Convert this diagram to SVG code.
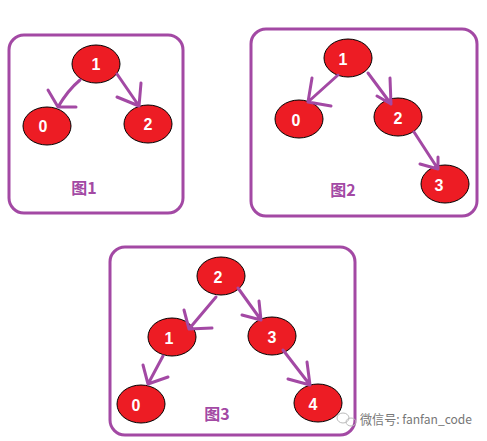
<svg xmlns="http://www.w3.org/2000/svg" width="487" height="441" viewBox="0 0 487 441">
<style>
.frame{fill:#fff;stroke:#a349a4;stroke-width:3}
.node ellipse{fill:#ed1c24;stroke:#000;stroke-width:1}
.node text{fill:#fff;font-family:"Liberation Sans","Noto Sans CJK SC",sans-serif;font-weight:bold;font-size:16px;text-anchor:middle}
.cap{fill:#a349a4;font-family:"Noto Sans CJK SC","Liberation Sans",sans-serif;font-weight:bold;font-size:16px;text-anchor:middle}
.edge{fill:none;stroke:#a349a4;stroke-width:3;stroke-linecap:round;stroke-linejoin:round}
.wm{fill:#777;font-family:"Noto Sans CJK SC","Liberation Sans",sans-serif;font-size:13px}
</style>
<rect width="487" height="441" fill="#fff"/>
<g id="fig1">
<rect class="frame" x="9" y="35" width="174" height="178" rx="15"/>
<g id="f1n1" class="node"><ellipse cx="96" cy="64" rx="24" ry="19"/><text x="96" y="70">1</text></g>
<g id="f1n0" class="node"><ellipse cx="47" cy="126" rx="24" ry="19"/><text x="43" y="132">0</text></g>
<g id="f1n2" class="node"><ellipse cx="148" cy="124" rx="24" ry="19"/><text x="148" y="130">2</text></g>
<text class="cap" x="84" y="194">图1</text>
</g>
<g id="fig2">
<rect class="frame" x="251" y="29" width="226" height="187" rx="15"/>
<g id="f2n1" class="node"><ellipse cx="348" cy="58" rx="24" ry="19"/><text x="343" y="65">1</text></g>
<g id="f2n0" class="node"><ellipse cx="299" cy="119" rx="24" ry="19"/><text x="296" y="126">0</text></g>
<g id="f2n2" class="node"><ellipse cx="398" cy="117" rx="24" ry="19"/><text x="398" y="124">2</text></g>
<g id="f2n3" class="node"><ellipse cx="445" cy="184" rx="24" ry="19"/><text x="439" y="191">3</text></g>
<text class="cap" x="343" y="196">图2</text>
</g>
<g id="fig3">
<rect class="frame" x="110" y="247" width="245" height="188" rx="15"/>
<g id="f3n2" class="node"><ellipse cx="221" cy="276" rx="24" ry="19"/><text x="218" y="283">2</text></g>
<g id="f3n1" class="node"><ellipse cx="172" cy="337" rx="24" ry="19"/><text x="169" y="344">1</text></g>
<g id="f3n3" class="node"><ellipse cx="272" cy="336" rx="24" ry="19"/><text x="272" y="343">3</text></g>
<g id="f3n0" class="node"><ellipse cx="141" cy="404" rx="24" ry="19"/><text x="136" y="411">0</text></g>
<g id="f3n4" class="node"><ellipse cx="318" cy="403" rx="24" ry="19"/><text x="313" y="410">4</text></g>
<text class="cap" x="217" y="420">图3</text>
</g>
<g id="connectors" class="edge">
<path d="M80,80 Q68,90 58,107 M48,90 L58,107 L76,107"/>
<path d="M117,74 L139,106 M141,83 L139,106 L117,97"/>
<path d="M338,75 L308,102 M312,78 L308,102 L331,106"/>
<path d="M368,73 L391,104 M390,78 L391,104 L377,96"/>
<path d="M414,132 L438,169 M438,157 L438,169 L420,164"/>
<path d="M216,297 L189,329 M184,310 L189,329 L212,328"/>
<path d="M238,288 L261,320 M259,301 L261,320 L242,315"/>
<path d="M163,356 L148,384 M143,365 L148,384 L168,377"/>
<path d="M283,350 L310,385 M307,362 L310,385 L288,379"/>
</g>
<g id="watermark">
<ellipse cx="343" cy="418" rx="6" ry="5" fill="none" stroke="#bbb" stroke-width="1"/>
<ellipse cx="351" cy="422" rx="5" ry="4" fill="none" stroke="#bbb" stroke-width="1"/>
<text class="wm" x="360" y="424" textLength="112" lengthAdjust="spacingAndGlyphs">微信号: fanfan_code</text>
</g>
</svg>
